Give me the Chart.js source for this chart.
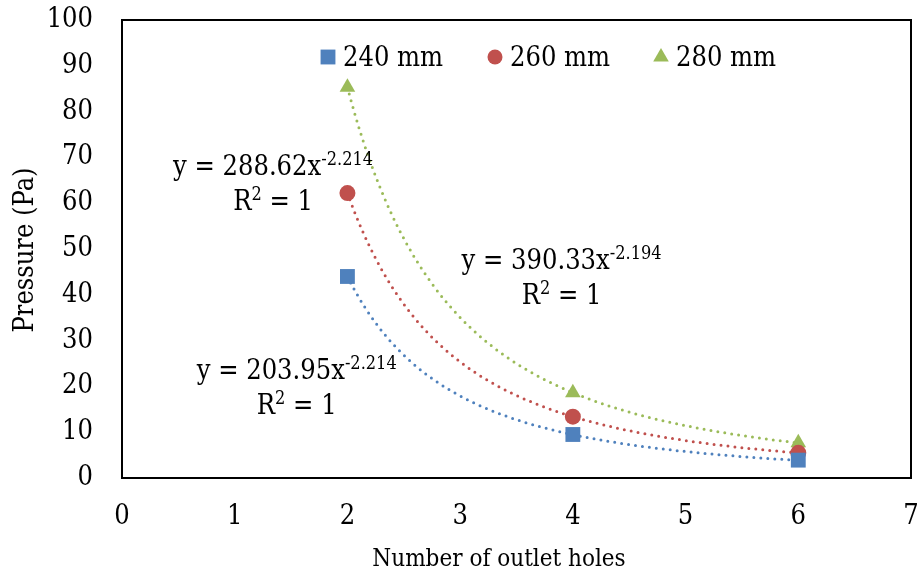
<!DOCTYPE html>
<html>
<head>
<meta charset="utf-8">
<script src="https://cdn.jsdelivr.net/npm/chart.js@4/dist/chart.umd.min.js"></script>
<style>
  html, body { margin: 0; padding: 0; background: #ffffff; }
  #wrap { width: 920px; height: 575px; }
</style>
</head>
<body>
<div id="wrap"><canvas id="chart" width="920" height="575"></canvas></div>
<script>
// Number of outlet holes and measured pressure (Pa) per nozzle length
const holes = [2, 4, 6];
const seriesNames = ['240 mm', '260 mm', '280 mm'];
const p240 = [44.0, 9.5, 3.9];
const p260 = [62.2, 13.4, 5.5];
const p280 = [85.3, 18.6, 7.7];

// Power trendlines y = a * x^b for each series, with their R²
const fitA = [203.95, 288.62, 390.33];
const fitB = [-2.214, -2.214, -2.194];
const fitR2 = [1, 1, 1];

// Axis ticks
const xTicks = [0, 1, 2, 3, 4, 5, 6, 7];
const yTicks = [0, 10, 20, 30, 40, 50, 60, 70, 80, 90, 100];

const FONT = "'DejaVu Serif Condensed', 'DejaVu Serif', serif";
const MAIN = 27, SUP = 18;
const COLORS = ['#4F81BD', '#C0504D', '#9BBB59'];
const MARKERS = ['rect', 'circle', 'triangle'];
const MARKER_R = [10.5, 8, 9];
const seriesValues = [p240, p260, p280];

// Smooth curve of a power trendline across the measured range
function trendCurve(a, b) {
  const pts = [];
  const x0 = holes[0], x1 = holes[holes.length - 1];
  const n = 120;
  for (let i = 0; i <= n; i++) {
    const x = x0 + (x1 - x0) * i / n;
    pts.push({ x: x, y: a * Math.pow(x, b) });
  }
  return pts;
}

const markerSets = seriesValues.map((vals, i) => ({
  label: seriesNames[i],
  data: holes.map((h, k) => ({ x: h, y: vals[k] })),
  showLine: false,
  pointStyle: MARKERS[i],
  pointRadius: MARKER_R[i],
  pointHoverRadius: MARKER_R[i],
  backgroundColor: COLORS[i],
  borderColor: COLORS[i],
  borderWidth: 0
}));

const trendSets = fitA.map((a, i) => ({
  label: 'trend ' + seriesNames[i],
  data: trendCurve(a, fitB[i]),
  showLine: true,
  pointRadius: 0,
  pointHoverRadius: 0,
  borderColor: COLORS[i],
  borderWidth: 3,
  borderDash: [0, 7],
  borderCapStyle: 'round',
  tension: 0,
  fill: false
}));

// Placement of the trendline equation labels (data units; baseline of first line)
const eqAnchors = [
  { x: 1.55, y: 21.7 },
  { x: 1.34, y: 66.2 },
  { x: 3.90, y: 45.7 }
];

function drawRich(ctx, parts, cx, baseline) {
  let total = 0;
  parts.forEach(p => {
    ctx.font = (p.sup ? SUP : MAIN) + 'px ' + FONT;
    p.w = ctx.measureText(p.t).width;
    total += p.w;
  });
  let x = cx - total / 2;
  parts.forEach(p => {
    ctx.font = (p.sup ? SUP : MAIN) + 'px ' + FONT;
    ctx.fillText(p.t, x, p.sup ? baseline - 10 : baseline);
    x += p.w;
  });
}

const decorPlugin = {
  id: 'decor',
  afterDatasetsDraw(chart) {
    const ctx = chart.ctx;
    const a = chart.chartArea;
    const xs = chart.scales.x, ys = chart.scales.y;
    ctx.save();
    // plot frame
    ctx.strokeStyle = '#000000';
    ctx.lineWidth = 2;
    ctx.strokeRect(a.left, a.top, a.right - a.left, a.bottom - a.top);

    ctx.fillStyle = '#000000';
    ctx.textAlign = 'left';
    ctx.textBaseline = 'alphabetic';

    // trendline equations
    fitA.forEach((coef, i) => {
      const cx = xs.getPixelForValue(eqAnchors[i].x);
      const by = ys.getPixelForValue(eqAnchors[i].y);
      drawRich(ctx, [{ t: 'y = ' + coef.toFixed(2) + 'x' }, { t: String(fitB[i]), sup: true }], cx, by);
      drawRich(ctx, [{ t: 'R' }, { t: '2', sup: true }, { t: ' = ' + fitR2[i] }], cx, by + 35);
    });

    // legend
    const legendX = [328, 495, 661];
    const legendR = [10.5, 7.5, 9];
    seriesNames.forEach((name, i) => {
      ctx.fillStyle = COLORS[i];
      Chart.helpers.drawPoint(ctx, {
        pointStyle: MARKERS[i], radius: legendR[i], borderWidth: 0, rotation: 0
      }, legendX[i], 57);
      ctx.fillStyle = '#000000';
      ctx.font = MAIN + 'px ' + FONT;
      ctx.fillText(name, legendX[i] + 15, 66);
    });

    // axis titles
    ctx.textAlign = 'center';
    ctx.font = '24px ' + FONT;
    ctx.fillText('Number of outlet holes', 499, 566);
    ctx.font = MAIN + 'px ' + FONT;
    ctx.translate(33, 250);
    ctx.rotate(-Math.PI / 2);
    ctx.fillText('Pressure (Pa)', 0, 0);
    ctx.restore();
  }
};

// fixed axis band sizes with no extra label overhang padding
function fixBand(prop, size) {
  return s => {
    s[prop] = size;
    s.paddingLeft = 0; s.paddingRight = 0; s.paddingTop = 0; s.paddingBottom = 0;
  };
}

Chart.defaults.font.family = FONT;
Chart.defaults.color = '#000000';

new Chart(document.getElementById('chart'), {
  type: 'scatter',
  data: { datasets: markerSets.concat(trendSets) },
  options: {
    responsive: false,
    animation: false,
    devicePixelRatio: 1,
    layout: { autoPadding: false, padding: { top: 20, right: 9, left: 0, bottom: 0 } },
    plugins: {
      legend: { display: false },
      tooltip: { enabled: false }
    },
    scales: {
      x: {
        type: 'linear',
        min: xTicks[0],
        max: xTicks[xTicks.length - 1],
        afterBuildTicks: s => { s.ticks = xTicks.map(v => ({ value: v })); },
        afterFit: fixBand('height', 97),
        ticks: { font: { size: MAIN, family: FONT }, color: '#000000', padding: 23, maxRotation: 0 },
        grid: { display: false, drawTicks: false },
        border: { display: false }
      },
      y: {
        type: 'linear',
        min: yTicks[0],
        max: yTicks[yTicks.length - 1],
        afterBuildTicks: s => { s.ticks = yTicks.map(v => ({ value: v })); },
        afterFit: fixBand('width', 122),
        ticks: { font: { size: MAIN, family: FONT }, color: '#000000', padding: 29 },
        grid: { display: false, drawTicks: false },
        border: { display: false }
      }
    }
  },
  plugins: [decorPlugin]
});
</script>
</body>
</html>
